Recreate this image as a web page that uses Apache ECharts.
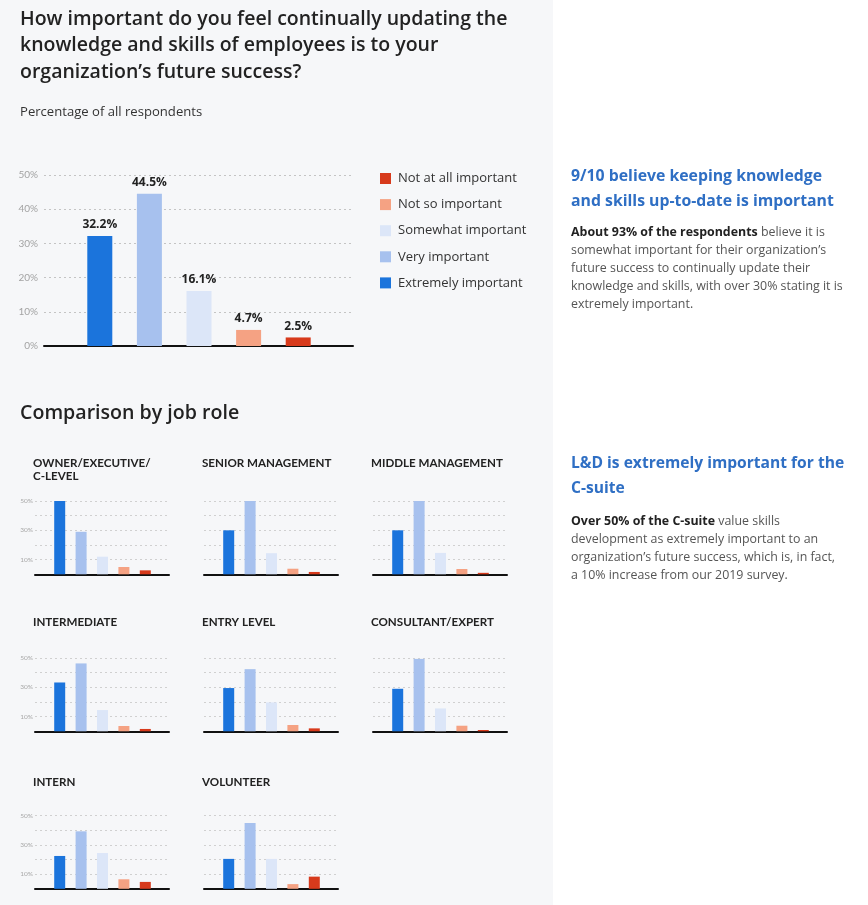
<!DOCTYPE html>
<html><head><meta charset="utf-8">
<script src="https://cdn.jsdelivr.net/npm/echarts@6/dist/echarts.min.js"></script>
<style>html,body{margin:0;padding:0;background:#fff}#c{width:868px;height:905px}</style>
</head><body><div id="c"></div>
<script>
const categories = ['Extremely important','Very important','Somewhat important','Not so important','Not at all important'];
const legendOrder = ['Not at all important','Not so important','Somewhat important','Very important','Extremely important'];
const overallValues = [32.2, 44.5, 16.1, 4.7, 2.5];
const roleNames = ['OWNER/EXECUTIVE/\nC-LEVEL','SENIOR MANAGEMENT','MIDDLE MANAGEMENT','INTERMEDIATE','ENTRY LEVEL','CONSULTANT/EXPERT','INTERN','VOLUNTEER'];
const ownerExecutive = [50, 29, 12, 5, 2.7];
const seniorManagement = [30, 50, 14.4, 3.8, 1.6];
const middleManagement = [30, 50, 14.6, 3.6, 1];
const intermediate = [33.3, 46.3, 14.5, 3.6, 1.6];
const entryLevel = [29.5, 42.4, 19.7, 4.3, 2];
const consultantExpert = [29, 49.4, 15.6, 3.8, 0.9];
const intern = [22.4, 39.2, 24.4, 6.5, 4.7];
const volunteer = [20.4, 44.9, 20.4, 3.2, 8.3];
const roleValues = [ownerExecutive, seniorManagement, middleManagement, intermediate, entryLevel, consultantExpert, intern, volunteer];
const smallTickLabels = [10, 30, 50];
const colors = ['#1b74dc', '#a7c1ee', '#dce6f8', '#f5a283', '#d73a1c'];
const FONT = 'Open Sans';
const SMALLFONT = 'Lato';

const grid = [], xAxis = [], yAxis = [], series = [];

// main chart background grid
grid.push({left: 44, top: 175, width: 309, height: 171});
xAxis.push({gridIndex: 0, type: 'value', min: 0, max: 1, axisLine: {show: true, lineStyle: {color: '#111', width: 2}}, axisTick: {show: false}, axisLabel: {show: false}, splitLine: {show: false}});
yAxis.push({gridIndex: 0, type: 'value', min: 0, max: 50, interval: 10,
  axisLine: {show: false}, axisTick: {show: false},
  axisLabel: {formatter: '{value}%', color: '#a3a3a3', fontSize: 10, fontFamily: SMALLFONT, margin: 6},
  splitLine: {lineStyle: {type: [2, 3], color: '#c4c4c4'}}});
// main chart bars grid
grid.push({left: 75, top: 175, width: 248, height: 171});
xAxis.push({gridIndex: 1, type: 'category', data: categories, show: false});
yAxis.push({gridIndex: 1, type: 'value', min: 0, max: 50, show: false});
categories.forEach((c, i) => {
  series.push({
    name: c, type: 'bar', xAxisIndex: 1, yAxisIndex: 1, stack: 'main', barWidth: 25,
    itemStyle: {color: colors[i]},
    label: {show: true, position: 'top', distance: 5, formatter: '{c}%', fontWeight: 'bold', fontSize: 12, color: '#222', fontFamily: FONT},
    data: categories.map((cc, j) => j === i ? overallValues[j] : '-')
  });
});

// small multiples
const colLeft = [35, 204, 373];
const rowTop = [501, 658, 815.5];
const SW = 134, SH = 73.3;
const graphics = [];
roleValues.forEach((vals, k) => {
  const col = k % 3, row = Math.floor(k / 3);
  const L = colLeft[col], T = rowTop[row];
  const gi = grid.length;
  grid.push({left: L, top: T, width: SW, height: SH});
  xAxis.push({gridIndex: gi, type: 'value', min: 0, max: 1, axisLine: {show: true, lineStyle: {color: '#111', width: 2}}, axisTick: {show: false}, axisLabel: {show: false}, splitLine: {show: false}});
  yAxis.push({gridIndex: gi, type: 'value', min: 0, max: 50, interval: 10,
    axisLine: {show: false}, axisTick: {show: false},
    axisLabel: {show: col === 0, formatter: v => smallTickLabels.includes(v) ? v + '%' : '', color: '#a8a8a8', fontSize: 6.5, fontFamily: SMALLFONT, margin: 2},
    splitLine: {lineStyle: {type: [2, 3], color: '#d0d0d0'}}});
  const bi = grid.length;
  grid.push({left: L + 14, top: T, width: 107, height: SH});
  xAxis.push({gridIndex: bi, type: 'category', data: categories, show: false});
  yAxis.push({gridIndex: bi, type: 'value', min: 0, max: 50, show: false});
  series.push({
    type: 'bar', xAxisIndex: bi, yAxisIndex: bi, barWidth: 11,
    data: vals.map((v, j) => ({value: v, itemStyle: {color: colors[j]}}))
  });
  const titleCenter = [463.5, 622, 782][row];
  graphics.push({type: 'text', x: L - 2, y: titleCenter - 6.25,
    style: {text: roleNames[k], fontFamily: SMALLFONT, fontWeight: 'bold', fontSize: 11.6, fill: '#222', lineHeight: 12.5, verticalAlign: 'top'}});
});

const texts = [
  {x: 20, y: 5.75, style: {text: 'How important do you feel continually updating the\nknowledge and skills of employees is to your\norganization\u2019s future success?', fontFamily: FONT, fontWeight: 600, fontSize: 19.5, fill: '#222', lineHeight: 26.5, verticalAlign: 'top'}},
  {x: 20, y: 104, style: {text: 'Percentage of all respondents', fontFamily: FONT, fontSize: 13.1, fill: '#333', lineHeight: 16, verticalAlign: 'top'}},
  {x: 20, y: 400, style: {text: 'Comparison by job role', fontFamily: FONT, fontWeight: 600, fontSize: 19.6, fill: '#222', lineHeight: 26, verticalAlign: 'top'}},
  {x: 571, y: 163.5, style: {text: '9/10 believe keeping knowledge\nand skills up-to-date is important', fontFamily: FONT, fontWeight: 'bold', fontSize: 15.8, fill: '#2f6fc4', lineHeight: 25, verticalAlign: 'top'}},
  {x: 571, y: 223.7, style: {text: '{b|About 93% of the respondents} believe it is\nsomewhat important for their organization\u2019s\nfuture success to continually update their\nknowledge and skills, with over 30% stating it is\nextremely important.', fontFamily: FONT, fontSize: 12.4, fill: '#555', lineHeight: 18, verticalAlign: 'top',
    rich: {b: {fontFamily: FONT, fontSize: 12.4, fontWeight: 'bold', fill: '#222', lineHeight: 18}}}},
  {x: 571, y: 451.5, style: {text: 'L&D is extremely important for the\nC-suite', fontFamily: FONT, fontWeight: 'bold', fontSize: 15.6, fill: '#2f6fc4', lineHeight: 25, verticalAlign: 'top'}},
  {x: 571, y: 512.5, style: {text: '{b|Over 50% of the C-suite} value skills\ndevelopment as extremely important to an\norganization\u2019s future success, which is, in fact,\na 10% increase from our 2019 survey.', fontFamily: FONT, fontSize: 12.4, fill: '#555', lineHeight: 18, verticalAlign: 'top',
    rich: {b: {fontFamily: FONT, fontSize: 12.4, fontWeight: 'bold', fill: '#222', lineHeight: 18}}}}
];
texts.forEach(t => graphics.push(Object.assign({type: 'text'}, t)));

const chart = echarts.init(document.getElementById('c'), null, {renderer: 'canvas'});
chart.setOption({
  backgroundColor: '#ffffff',
  animation: false,
  textStyle: {fontFamily: FONT},
  graphic: [{type: 'rect', z: -10, shape: {x: 0, y: 0, width: 553, height: 905}, style: {fill: '#f6f7f9'}}].concat(graphics),
  legend: {data: legendOrder, orient: 'vertical', left: 380, top: 172, padding: 0, itemWidth: 11, itemHeight: 11, itemGap: 13.1, icon: 'rect', selectedMode: false,
    textStyle: {fontSize: 13, color: '#333', fontFamily: FONT, padding: [0, 0, 0, 2]}},
  grid, xAxis, yAxis, series
});
</script></body></html>
